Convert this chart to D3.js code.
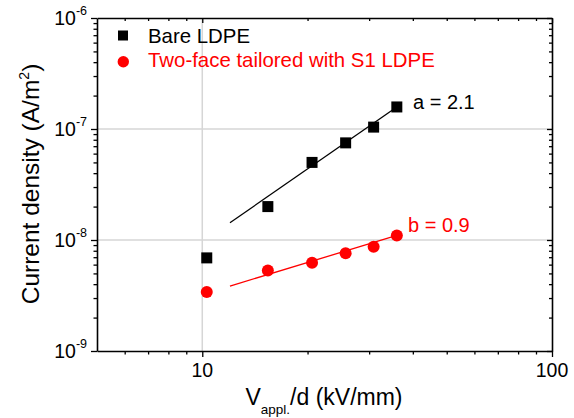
<!DOCTYPE html>
<html><head><meta charset="utf-8">
<script src="https://cdn.jsdelivr.net/npm/d3@7"></script>
<style>body{margin:0;background:#fff}text{font-family:Arial,"Liberation Sans",sans-serif}</style>
</head><body><svg id="c" width="574" height="418"></svg>
<script>
const fields = [10.3, 15.4, 20.6, 25.7, 30.9, 36.0];
const bareLDPE = [6.9e-9, 2.0e-8, 5.0e-8, 7.5e-8, 1.04e-7, 1.58e-7];
const tailoredS1 = [3.4e-9, 5.3e-9, 6.25e-9, 7.6e-9, 8.7e-9, 1.1e-8];
const fitX = [12, 36];
const fitBare = [1.43e-8, 1.58e-7];
const fitS1 = [3.85e-9, 1.1e-8];
const xTicks = [10, 100];
const yTickExp = [-9, -8, -7, -6];
const seriesNames = ["Bare LDPE", "Two-face tailored with S1 LDPE"];
const slopeLabels = ["a = 2.1", "b = 0.9"];

const svg = d3.select("#c");
const L = 97, T = 18, R = 552, B = 351;
const x = d3.scaleLog().domain([5, 100]).range([L, R]);
const y = d3.scaleLog().domain([1e-9, 1e-6]).range([B, T]);

// grid
const g = svg.append("g");
g.selectAll("line.gx").data([10]).enter().append("line")
  .attr("x1", d => x(d)).attr("x2", d => x(d)).attr("y1", T).attr("y2", B)
  .attr("stroke", "#d6d6d6").attr("stroke-width", 1.5);
g.selectAll("line.gy").data([1e-8, 1e-7]).enter().append("line")
  .attr("y1", d => y(d)).attr("y2", d => y(d)).attr("x1", L).attr("x2", R)
  .attr("stroke", "#d6d6d6").attr("stroke-width", 1.5);

const xMinor = [6,7,8,9,20,30,40,50,60,70,80,90];
const yMinor = [];
[-9,-8,-7].forEach(e => { for (let k = 2; k <= 9; k++) yMinor.push(k * Math.pow(10, e)); });
const yMajor = yTickExp.map(e => Math.pow(10, e));

function axis(gen, tr, maj, min, majLen, minLen) {
  const a = svg.append("g").attr("transform", tr);
  a.call(gen(maj).tickSizeInner(majLen).tickSizeOuter(0).tickFormat(""));
  a.append("g").call(gen(min).tickSizeInner(minLen).tickSizeOuter(0).tickFormat(""))
    .select(".domain").remove();
  a.selectAll("line").attr("stroke", "#000").attr("stroke-width", 1.3);
  a.selectAll(".domain").attr("stroke", "#000").attr("stroke-width", 1.6);
  return a;
}
const xb = (v) => d3.axisBottom(x).tickValues(v);
const xt = (v) => d3.axisTop(x).tickValues(v);
const yl = (v) => d3.axisLeft(y).tickValues(v);
const yr = (v) => d3.axisRight(y).tickValues(v);
axis(xb, `translate(0,${B})`, xTicks, xMinor, 6, 3.5);
axis(xt, `translate(0,${T})`, xTicks, xMinor, -5, -3);
axis(yl, `translate(${L},0)`, yMajor, yMinor, 6, 3.5);
axis(yr, `translate(${R},0)`, yMajor, yMinor, -5, -3);

// tick labels
svg.selectAll("text.xt").data(xTicks).enter().append("text")
  .attr("x", d => x(d)).attr("y", 377).attr("text-anchor", "middle")
  .attr("font-size", 19.5).text(d => d);
yTickExp.forEach(e => {
  const t = svg.append("text").attr("x", 87).attr("y", y(Math.pow(10, e)) + 7)
    .attr("text-anchor", "end").attr("font-size", 19.5);
  t.append("tspan").text("10");
  t.append("tspan").attr("dy", -10).attr("font-size", 12.5).text("-" + Math.abs(e));
});

// fit lines
const line = d3.line().x(d => x(d[0])).y(d => y(d[1]));
svg.append("path").attr("d", line(d3.zip(fitX, fitBare))).attr("stroke", "#000").attr("stroke-width", 1.3).attr("fill", "none");
svg.append("path").attr("d", line(d3.zip(fitX, fitS1))).attr("stroke", "#ff0000").attr("stroke-width", 1.3).attr("fill", "none");

// points
const sq = 11;
svg.selectAll("rect.p").data(d3.zip(fields, bareLDPE)).enter().append("rect")
  .attr("x", d => x(d[0]) - sq/2).attr("y", d => y(d[1]) - sq/2)
  .attr("width", sq).attr("height", sq).attr("fill", "#000");
svg.selectAll("circle.p").data(d3.zip(fields, tailoredS1)).enter().append("circle")
  .attr("cx", d => x(d[0])).attr("cy", d => y(d[1])).attr("r", 6).attr("fill", "#ff0000");

// slope labels
svg.append("text").attr("x", 413).attr("y", 109).attr("font-size", 20).attr("fill", "#000").text(slopeLabels[0]);
svg.append("text").attr("x", 408).attr("y", 232).attr("font-size", 20).attr("fill", "#ff0000").text(slopeLabels[1]);

// legend
svg.append("rect").attr("x", 118).attr("y", 30.5).attr("width", 10).attr("height", 10).attr("fill", "#000");
svg.append("text").attr("x", 148).attr("y", 42.5).attr("font-size", 20.4).text(seriesNames[0]);
svg.append("circle").attr("cx", 123.3).attr("cy", 61.7).attr("r", 5.7).attr("fill", "#ff0000");
svg.append("text").attr("x", 148).attr("y", 67).attr("font-size", 20.4).attr("fill", "#ff0000").text(seriesNames[1]);

// axis titles
const yt = svg.append("text").attr("transform", "translate(39,184) rotate(-90)")
  .attr("text-anchor", "middle").attr("font-size", 24.5);
yt.append("tspan").text("Current density (A/m");
yt.append("tspan").attr("dy", -10).attr("font-size", 14).text("2");
yt.append("tspan").attr("dy", 10).text(")");
const xtl = svg.append("text").attr("x", 324).attr("y", 405).attr("text-anchor", "middle").attr("font-size", 23);
xtl.append("tspan").text("V");
xtl.append("tspan").attr("dy", 9).attr("font-size", 13.5).text("appl.");
xtl.append("tspan").attr("dy", -9).text("/d (kV/mm)");
</script></body></html>
